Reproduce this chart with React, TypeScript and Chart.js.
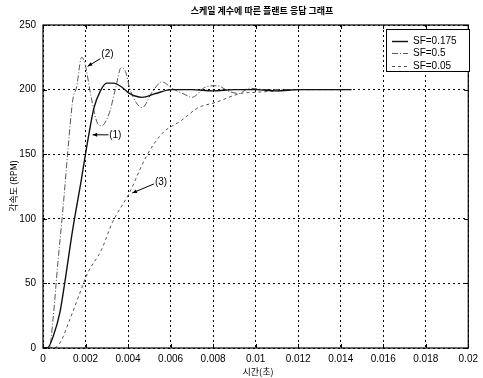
import React, { useEffect, useRef } from "react";
import { Chart, registerables } from "chart.js";

Chart.register(...registerables);

const TITLE = "스케일 계수에 따른 플랜트 응답 그래프";
const X_LABEL = "시간(초)";
const Y_LABEL = "각속도 (RPM)";

const LABELS = ["SF=0.175", "SF=0.5", "SF=0.05"];

// SF=0.175 : curve (1)
const sf175X = [0, 0.0002, 0.0005, 0.0008, 0.001, 0.0014, 0.0018, 0.0021, 0.0024, 0.0027, 0.003, 0.0033, 0.0037, 0.00406, 0.00466, 0.0053, 0.00606, 0.007, 0.008, 0.009, 0.01, 0.011, 0.012, 0.013, 0.0145];
const sf175Y = [0, 0, 10, 28, 48, 92, 130, 160, 186, 199, 205, 205, 202, 197, 194, 197, 200, 200, 199, 200, 200, 199, 200, 200, 200];

// SF=0.5 : curve (2)
const sf5X = [0, 0.0003, 0.00047, 0.0007, 0.00089, 0.00103, 0.00117, 0.0014, 0.00158, 0.00182, 0.00196, 0.00228, 0.00256, 0.00275, 0.00312, 0.0034, 0.00368, 0.0039, 0.00406, 0.00438, 0.00466, 0.00513, 0.0056, 0.00606, 0.0067, 0.007, 0.00765, 0.0082, 0.0087, 0.0092, 0.0097, 0.0105, 0.012, 0.0145];
const sf5Y = [0, 0, 22, 66, 99, 125, 153, 192, 202, 225, 221, 193, 174, 172, 182, 200, 217, 213, 202, 190, 186, 198, 206, 201, 196, 194, 202, 203, 199, 197, 201, 200, 200, 200];

// SF=0.05 : curve (3)
const sf05X = [0, 0.0005, 0.0008, 0.00126, 0.00172, 0.0021, 0.00275, 0.00326, 0.00406, 0.00485, 0.0056, 0.0065, 0.0073, 0.0081, 0.0093, 0.0101, 0.011, 0.012, 0.013, 0.0145];
const sf05Y = [0, 0, 4, 22, 42, 58, 76, 97, 120, 148, 166, 176, 186, 190, 197, 198, 199, 200, 200, 200];

const X_TICK_STEP = 0.002;
const Y_TICK_STEP = 50;

// annotations
const NOTE_TEXT = ["(1)", "(2)", "(3)"];
const NOTE_POS_X = [0.0034, 0.00303, 0.00555];
const NOTE_POS_Y = [165, 227, 128];
const ARROW_FROM_X = [0.00308, 0.0027, 0.00522];
const ARROW_FROM_Y = [165, 224, 127];
const ARROW_TO_X = [0.00233, 0.0021, 0.0042];
const ARROW_TO_Y = [165, 218, 120];

const toPts = (xs: number[], ys: number[]) => xs.map((x, i) => ({ x, y: ys[i] }));

const FONT = "'Liberation Sans', Arial, sans-serif";
const KFONT = "'Noto Sans CJK KR', sans-serif";

export default function App() {
  const ref = useRef<HTMLCanvasElement | null>(null);

  useEffect(() => {
    if (!ref.current) return;

    const decorPlugin = {
      id: "decor",
      afterDraw(chart: any) {
        const ctx = chart.ctx as CanvasRenderingContext2D;
        const a = chart.chartArea;
        const xs = chart.scales.x;
        const ys = chart.scales.y;
        ctx.save();
        ctx.strokeStyle = "#000";
        ctx.lineWidth = 1.2;
        ctx.setLineDash([]);
        ctx.strokeRect(a.left, a.top, a.right - a.left, a.bottom - a.top);
        ctx.lineWidth = 1;
        for (let v = 0; v <= 0.02 + 1e-9; v += X_TICK_STEP) {
          const px = Math.round(xs.getPixelForValue(v)) + 0.5;
          ctx.beginPath();
          ctx.moveTo(px, a.bottom); ctx.lineTo(px, a.bottom - 4);
          ctx.moveTo(px, a.top); ctx.lineTo(px, a.top + 4);
          ctx.stroke();
        }
        for (let v = 0; v <= 250; v += Y_TICK_STEP) {
          const py = Math.round(ys.getPixelForValue(v)) + 0.5;
          ctx.beginPath();
          ctx.moveTo(a.left, py); ctx.lineTo(a.left + 4, py);
          ctx.moveTo(a.right, py); ctx.lineTo(a.right - 4, py);
          ctx.stroke();
        }
        ctx.fillStyle = "#000";
        ctx.font = `bold 9px ${KFONT}`;
        ctx.textAlign = "center";
        ctx.textBaseline = "middle";
        ctx.fillText(TITLE, 262, 11);
        ctx.font = `9px ${KFONT}`;
        ctx.fillText(X_LABEL, 258, 372);
        ctx.save();
        ctx.translate(14, 186);
        ctx.rotate(-Math.PI / 2);
        ctx.fillText(Y_LABEL, 0, 0);
        ctx.restore();

        ctx.font = `10px ${FONT}`;
        ctx.textAlign = "center";
        for (let i = 0; i < NOTE_TEXT.length; i++) {
          const tx = xs.getPixelForValue(NOTE_POS_X[i]);
          const ty = ys.getPixelForValue(NOTE_POS_Y[i]);
          ctx.fillText(NOTE_TEXT[i], tx, ty);
          const fx = xs.getPixelForValue(ARROW_FROM_X[i]);
          const fy = ys.getPixelForValue(ARROW_FROM_Y[i]);
          const ex = xs.getPixelForValue(ARROW_TO_X[i]);
          const ey = ys.getPixelForValue(ARROW_TO_Y[i]);
          ctx.beginPath();
          ctx.moveTo(fx, fy); ctx.lineTo(ex, ey);
          ctx.stroke();
          const ang = Math.atan2(ey - fy, ex - fx);
          ctx.beginPath();
          ctx.moveTo(ex, ey);
          ctx.lineTo(ex - 5 * Math.cos(ang - 0.4), ey - 5 * Math.sin(ang - 0.4));
          ctx.lineTo(ex - 5 * Math.cos(ang + 0.4), ey - 5 * Math.sin(ang + 0.4));
          ctx.closePath();
          ctx.fill();
        }

        const bx = 386, by = 29, bw = 83, bh = 42;
        ctx.fillStyle = "#fff";
        ctx.fillRect(bx, by, bw, bh);
        ctx.strokeStyle = "#000";
        ctx.lineWidth = 1;
        ctx.strokeRect(bx + 0.5, by + 0.5, bw, bh);
        const rows = [41, 53, 66];
        chart.data.datasets.forEach((ds: any, i: number) => {
          ctx.save();
          ctx.strokeStyle = ds.borderColor;
          ctx.lineWidth = ds.borderWidth;
          ctx.setLineDash(ds.borderDash || []);
          ctx.beginPath();
          ctx.moveTo(392, rows[i] + 0.5);
          ctx.lineTo(408, rows[i] + 0.5);
          ctx.stroke();
          ctx.restore();
          ctx.fillStyle = "#000";
          ctx.font = `10px ${FONT}`;
          ctx.textAlign = "left";
          ctx.textBaseline = "middle";
          ctx.fillText(ds.label, 413, rows[i]);
        });
        ctx.restore();
      },
    };

    const chart = new Chart(ref.current, {
      type: "line",
      data: {
        datasets: [
          {
            label: LABELS[0],
            data: toPts(sf175X, sf175Y),
            borderColor: "#111",
            borderWidth: 1.4,
            pointRadius: 0,
            cubicInterpolationMode: "monotone",
          },
          {
            label: LABELS[1],
            data: toPts(sf5X, sf5Y),
            borderColor: "#555",
            borderWidth: 1,
            borderDash: [6, 2, 1, 2],
            pointRadius: 0,
            cubicInterpolationMode: "monotone",
          },
          {
            label: LABELS[2],
            data: toPts(sf05X, sf05Y),
            borderColor: "#555",
            borderWidth: 1,
            borderDash: [3, 3],
            pointRadius: 0,
            cubicInterpolationMode: "monotone",
          },
        ],
      },
      options: {
        animation: false,
        responsive: false,
        maintainAspectRatio: false,
        layout: { padding: { left: 0, right: 11, top: 25, bottom: 0 } },
        plugins: { legend: { display: false }, tooltip: { enabled: false }, title: { display: false } },
        scales: {
          x: {
            type: "linear",
            min: 0,
            max: 0.02,
            border: { display: false, dash: [2, 3] },
            ticks: {
              stepSize: X_TICK_STEP,
              color: "#000",
              font: { family: FONT, size: 10 },
              padding: 5,
              maxRotation: 0,
              autoSkip: false,
              callback: (v: any) => String(Number(Number(v).toFixed(4))),
            },
            grid: { color: "#000", lineWidth: 1, drawTicks: false },
            afterFit: (s: any) => { s.height = 30; },
          },
          y: {
            min: 0,
            max: 250,
            border: { display: false, dash: [2, 3] },
            ticks: {
              stepSize: Y_TICK_STEP,
              color: "#000",
              font: { family: FONT, size: 10 },
              padding: 7,
            },
            grid: { color: "#000", lineWidth: 1, drawTicks: false },
            afterFit: (s: any) => { s.width = 43; },
          },
        },
      },
      plugins: [decorPlugin],
    } as any);

    return () => chart.destroy();
  }, []);

  return (
    <div style={{ position: "absolute", left: 0, top: 0, width: 483, height: 378, background: "#fff" }}>
      <canvas ref={ref} width={483} height={378} style={{ display: "block" }} />
    </div>
  );
}
